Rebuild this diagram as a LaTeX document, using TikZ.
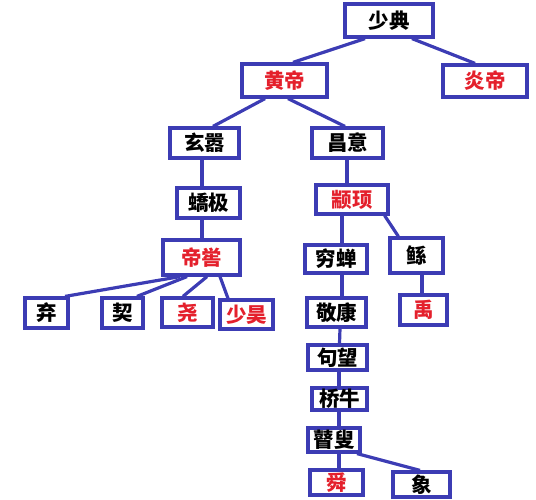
\documentclass[tikz,border=0pt]{standalone}
\usepackage{fontspec}
\newfontfamily\cjk{Noto Sans CJK SC}
\definecolor{bblue}{HTML}{3C3CB4}
\definecolor{rred}{HTML}{E4202C}
\tikzset{
  bx/.style={draw=bblue, line width=3.2pt, fill=white, inner sep=0pt,
    font=\cjk\bfseries\fontsize{20.5}{20.5}\selectfont, text=black},
  rd/.style={text=rred},
  ln/.style={draw=bblue, line width=3.2pt}
}
\begin{document}
\begin{tikzpicture}[x=1pt,y=-1pt]
\useasboundingbox (0,0) rectangle (536,500);
\node[bx, minimum width=88pt, minimum height=33pt] (shaodian) at (389,20.5) {少典};
\node[bx, rd, minimum width=85pt, minimum height=33pt] (huangdi) at (284.5,80.5) {黄帝};
\node[bx, rd, minimum width=84pt, minimum height=32pt] (yandi) at (485,81) {炎帝};
\node[bx, minimum width=69pt, minimum height=30pt] (xuanxiao) at (204.5,143) {玄嚣};
\node[bx, minimum width=71pt, minimum height=30pt] (changyi) at (347.5,143) {昌意};
\node[bx, minimum width=63pt, minimum height=30pt] (jiaoji) at (208.5,203) {蟜极};
\node[bx, rd, minimum width=72pt, minimum height=29pt] (zhuanxu) at (352,199.5) {颛顼};
\node[bx, rd, minimum width=77pt, minimum height=35pt] (diku) at (201.5,257.5) {帝喾};
\node[bx, minimum width=43pt, minimum height=30pt] (qi) at (46.5,313) {弃};
\node[bx, minimum width=41pt, minimum height=30pt] (xie) at (122.5,313) {契};
\node[bx, rd, minimum width=51pt, minimum height=29pt] (yao) at (187.5,312.5) {尧};
\node[bx, rd, minimum width=53pt, minimum height=29pt] (shaohao) at (246.5,314.5) {少昊};
\node[bx, minimum width=62pt, minimum height=28pt] (qiongchan) at (336,259) {穷蝉};
\node[bx, minimum width=53pt, minimum height=35pt] (gun) at (416.5,255.5) {鲧};
\node[bx, minimum width=59pt, minimum height=29pt] (jingkang) at (336.5,312.5) {敬康};
\node[bx, rd, minimum width=47pt, minimum height=30pt] (yu) at (423.5,310) {禹};
\node[bx, minimum width=59pt, minimum height=25pt] (juwang) at (337.5,357.5) {句望};
\node[bx, minimum width=55pt, minimum height=22pt] (qiaoniu) at (339.5,399) {桥牛};
\node[bx, minimum width=52pt, minimum height=24pt] (gusou) at (334,440) {瞽叟};
\node[bx, rd, minimum width=53pt, minimum height=25pt] (shun) at (336.5,482.5) {舜};
\node[bx, minimum width=57pt, minimum height=25pt] (xiang) at (421.5,484.5) {象};
% connectors
\draw[ln] ([xshift=-24pt]shaodian.south) -- ([xshift=8.5pt]huangdi.north);
\draw[ln] ([xshift=23pt]shaodian.south) -- ([xshift=-10pt]yandi.north);
\draw[ln] ([xshift=-19.5pt]huangdi.south) -- ([xshift=8.5pt]xuanxiao.north);
\draw[ln] ([xshift=3.5pt]huangdi.south) -- ([xshift=-2.5pt]changyi.north);
\draw[ln] ([xshift=-2.5pt]xuanxiao.south) -- ([xshift=-6.5pt]jiaoji.north);
\draw[ln] ([xshift=-6.5pt]jiaoji.south) -- ([xshift=0.5pt]diku.north);
\draw[ln] ([xshift=-0.5pt]changyi.south) -- ([xshift=-5pt]zhuanxu.north);
\draw[ln] ([xshift=-10pt]zhuanxu.south) -- ([xshift=6pt]qiongchan.north);
\draw[ln] ([xshift=-5pt]zhuanxu.south east) -- ([xshift=10pt]gun.north west);
\draw[ln] ([xshift=-21.5pt]diku.south) -- ([xshift=18.5pt]qi.north);
\draw[ln] ([xshift=-14.5pt]diku.south) -- ([xshift=14.5pt]xie.north);
\draw[ln] ([xshift=5.5pt]diku.south) -- ([xshift=-4.5pt]yao.north);
\draw[ln] ([xshift=18.5pt]diku.south) -- ([xshift=-18.5pt]shaohao.north);
\draw[ln] ([xshift=6pt]qiongchan.south) -- ([xshift=5.5pt]jingkang.north);
\draw[ln] ([xshift=3.5pt]jingkang.south) -- ([xshift=2pt]juwang.north);
\draw[ln] ([xshift=1.5pt]juwang.south) -- ([xshift=-0.5pt]qiaoniu.north);
\draw[ln] ([xshift=-0.5pt]qiaoniu.south) -- ([xshift=5pt]gusou.north);
\draw[ln] ([xshift=5pt]gusou.south) -- ([xshift=2.5pt]shun.north);
\draw[ln] ([xshift=23pt]gusou.south) -- ([xshift=-1.5pt]xiang.north);
\draw[ln] ([xshift=5.5pt]gun.south) -- ([xshift=-1.5pt]yu.north);
\end{tikzpicture}
\end{document}
